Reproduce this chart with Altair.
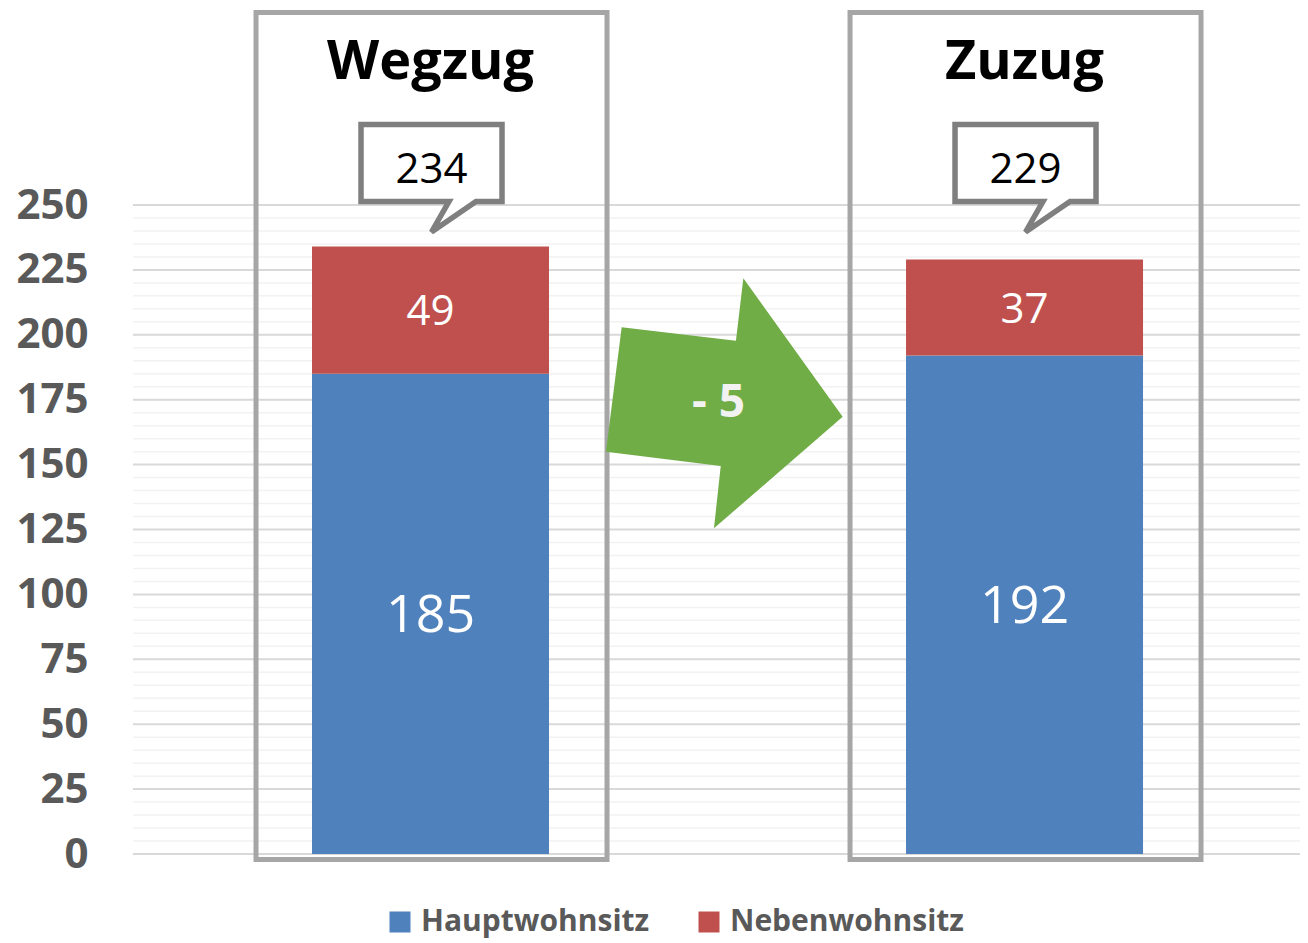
import altair as alt
import pandas as pd

# ---- data ----
categories = ["Wegzug", "Zuzug"]
series = ["Hauptwohnsitz", "Nebenwohnsitz"]
haupt = [185, 192]
neben = [49, 37]
y_ticks = [0, 25, 50, 75, 100, 125, 150, 175, 200, 225, 250]
colors = ["#4f81bd", "#c0504d"]

# ---- tables built from the lists ----
rows = []
for i, c in enumerate(categories):
    base = 0
    for j, vals in enumerate([haupt, neben]):
        v = vals[i]
        rows.append(dict(category=c, series=series[j], value=v, order=j, mid=base + v / 2))
        base += v
bars_df = pd.DataFrame(rows)
totals = [h + n for h, n in zip(haupt, neben)]
totals_df = pd.DataFrame({"category": categories, "total": totals})
diff = totals[1] - totals[0]
change_df = pd.DataFrame({"label": [("- " if diff < 0 else "+ ") + str(abs(diff))]})

grid_df = pd.DataFrame({"v": list(range(0, y_ticks[-1] + 1, 5))})
grid_df["major"] = grid_df["v"] % 25 == 0

W, H = 1167, 852
FONT = "Open Sans"

xscale = alt.Scale(domain=categories, paddingInner=0.601, paddingOuter=0.2828, align=0.5328)
yscale = alt.Scale(domain=[-3.08, 325.12], nice=False, zero=False)

yaxis = alt.Axis(values=y_ticks, labelFont=FONT, labelFontSize=42, labelFontWeight="bold",
                 labelColor="#595959", labelPadding=45, ticks=False, tickSize=0, domain=False,
                 grid=False, title=None)

grid = alt.Chart(grid_df).mark_rule().encode(
    y=alt.Y("v:Q", scale=yscale, axis=yaxis),
    x=alt.value(0), x2=alt.value(W),
    color=alt.condition(alt.datum.major, alt.value("#d9d9d9"), alt.value("#f2f2f2")),
    strokeWidth=alt.condition(alt.datum.major, alt.value(2), alt.value(1.5)),
)

xenc = alt.X("category:N", scale=xscale, axis=None, sort=categories)

boxes = alt.Chart(totals_df).mark_bar(size=351, xOffset=1, fillOpacity=0, stroke="#a6a6a6",
                                      strokeWidth=5).encode(
    x=xenc, y=alt.value(2.5), y2=alt.value(849.5)
)

bars = alt.Chart(bars_df).mark_bar().encode(
    x=xenc,
    y=alt.Y("value:Q", scale=yscale, stack="zero", axis=yaxis),
    color=alt.Color("series:N", scale=alt.Scale(domain=series, range=colors),
                    legend=alt.Legend(orient="none", legendX=252, legendY=897, direction="horizontal",
                                      title=None, symbolType="square", symbolSize=441,
                                      symbolStrokeWidth=0, symbolOpacity=1, labelLimit=500,
                                      labelFontSize=30, labelFont=FONT, labelFontWeight="bold",
                                      labelColor="#595959", labelOffset=6, columnPadding=44)),
    order=alt.Order("order:Q"),
)

labels = alt.Chart(bars_df).mark_text(font=FONT, color="white", baseline="middle", dy=2).encode(
    x=xenc,
    y=alt.Y("mid:Q", scale=yscale, axis=yaxis),
    text="value:Q",
    size=alt.condition(alt.datum.series == series[0], alt.value(52), alt.value(42)),
)

callout_path = ("M -0.94 -0.513 L 0.94 -0.513 L 0.94 0.513 L 0.593 0.513 "
                "L 0 0.92 L 0.233 0.513 L -0.94 0.513 Z")
callouts = alt.Chart(totals_df).mark_point(
    shape=callout_path, size=150 ** 2, filled=True, fill="white", fillOpacity=1,
    stroke="#7f7f7f", strokeWidth=5.5, strokeOpacity=1, opacity=1, xOffset=1
).encode(x=xenc, y=alt.value(153))

total_text = alt.Chart(totals_df).mark_text(font=FONT, fontSize=42, color="black",
                                             baseline="alphabetic", dx=1).encode(
    x=xenc, y=alt.value(173), text="total:Q"
)

titles = alt.Chart(totals_df).mark_text(font=FONT, fontSize=54, fontWeight="bold", color="black",
                                         baseline="alphabetic").encode(
    x=xenc, y=alt.value(69), text="category:N"
)

arrow_path = ("M -0.791 -0.582 L 0.088 -0.479 L 0.145 -0.959 L 0.909 0.105 "
              "L -0.081 0.964 L -0.029 0.485 L -0.912 0.375 Z")
arrow = alt.Chart(change_df).mark_point(
    shape=arrow_path, size=260 ** 2, filled=True, fill="#70ad47", fillOpacity=1,
    strokeWidth=0, opacity=1
).encode(x=alt.value(591.5), y=alt.value(393))

arrow_text = alt.Chart(change_df).mark_text(font=FONT, fontSize=46, fontWeight="bold",
                                             color="#f2f2f2", baseline="alphabetic").encode(
    x=alt.value(585.5), y=alt.value(407), text="label:N"
)

chart = alt.layer(grid, boxes, bars, labels, callouts, total_text, titles, arrow, arrow_text).properties(
    width=W, height=H,
    autosize=alt.AutoSizeParams(type="none"),
    padding={"left": 125, "top": 2, "right": 0, "bottom": 82},
    background="white",
).configure_view(stroke=None)

chart.save("out.html", embed_options={"renderer": "svg", "actions": False})
